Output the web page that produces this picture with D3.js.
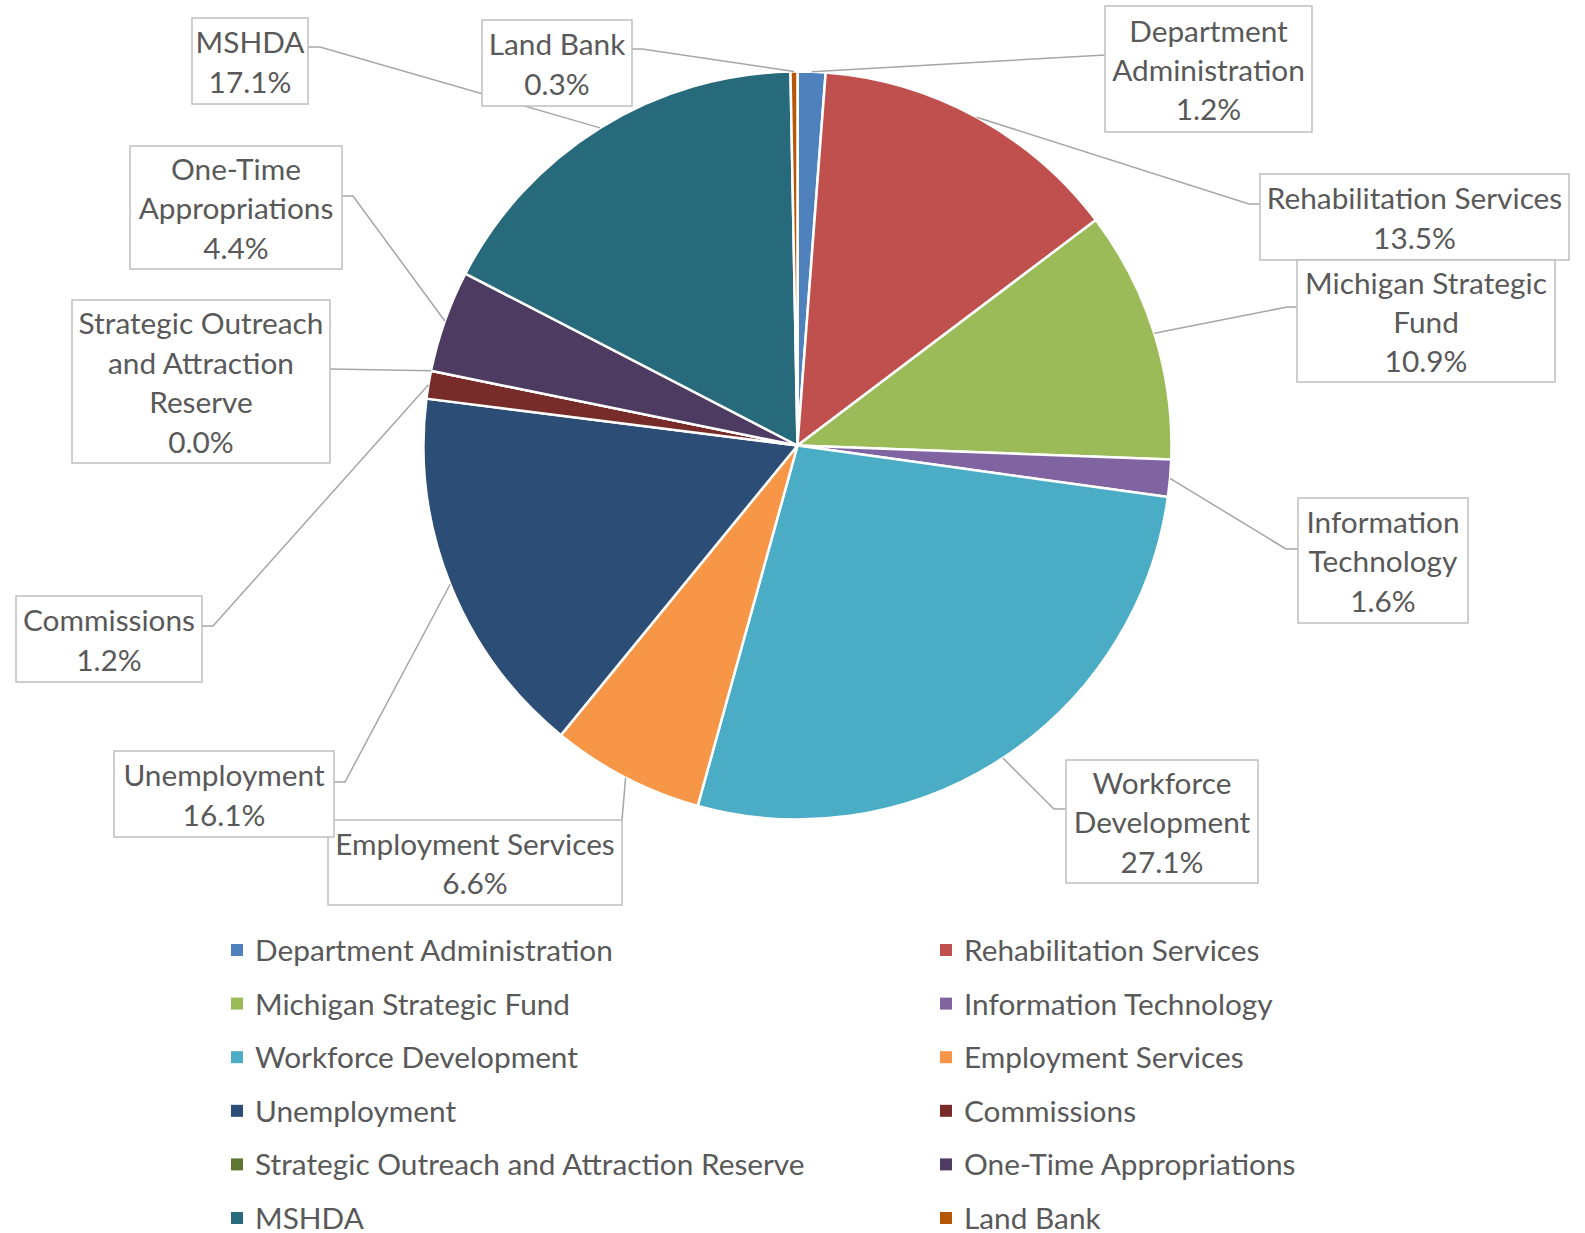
<!DOCTYPE html>
<html>
<head>
<meta charset="utf-8">
<script src="https://cdn.jsdelivr.net/npm/d3@7"></script>
<style>
    body { margin: 0; background: #fff; }
    svg text { font-family: Lato, "Noto Sans", sans-serif; fill: #595959; }
</style>
</head>
<body>
<div id="chart"></div>
<script>
// budget share by program, percent of total
var categories = [
    "Department Administration", "Rehabilitation Services", "Michigan Strategic Fund",
    "Information Technology", "Workforce Development", "Employment Services",
    "Unemployment", "Commissions", "Strategic Outreach and Attraction Reserve",
    "One-Time Appropriations", "MSHDA", "Land Bank"
];
var shares = [1.2, 13.5, 10.9, 1.6, 27.1, 6.6, 16.1, 1.2, 0.0, 4.4, 17.1, 0.3];
var colors = [
    "#4F81BD", "#C0504D", "#9BBB59", "#8064A2", "#4BACC6", "#F79646",
    "#2C4D75", "#772C2A", "#5F7530", "#4D3B62", "#276A7C", "#B65708"
];
// how each data label wraps
var labelLines = [
    ["Department", "Administration"], ["Rehabilitation Services"], ["Michigan Strategic", "Fund"],
    ["Information", "Technology"], ["Workforce", "Development"], ["Employment Services"],
    ["Unemployment"], ["Commissions"], ["Strategic Outreach", "and Attraction", "Reserve"],
    ["One-Time", "Appropriations"], ["MSHDA"], ["Land Bank"]
];

// label box placement (layout only)
var labelBoxes = [
    {x: 1105, y: 6,   w: 207, h: 126, side: "L", ay: 55,  elbow: 0},
    {x: 1260, y: 174, w: 309, h: 86,  side: "L", ay: 204, elbow: 11},
    {x: 1297, y: 260, w: 258, h: 122, side: "L", ay: 307, elbow: 10},
    {x: 1298, y: 498, w: 170, h: 125, side: "L", ay: 549, elbow: 12},
    {x: 1066, y: 760, w: 192, h: 123, side: "L", ay: 809, elbow: 12},
    {x: 328,  y: 820, w: 294, h: 85,  side: "C", ay: 820, elbow: 0},
    {x: 114,  y: 751, w: 220, h: 86,  side: "R", ay: 782, elbow: 11},
    {x: 16,   y: 596, w: 186, h: 86,  side: "R", ay: 626, elbow: 11},
    {x: 72,   y: 300, w: 258, h: 163, side: "R", ay: 369, elbow: 0},
    {x: 130,  y: 146, w: 212, h: 123, side: "R", ay: 196, elbow: 11},
    {x: 192,  y: 18,  w: 116, h: 86,  side: "R", ay: 47,  elbow: 12},
    {x: 482,  y: 20,  w: 150, h: 86,  side: "R", ay: 49,  elbow: 10}
];

var width = 1585, height = 1233;
var cx = 797.5, cy = 445.5, radius = 374;
var fontSize = 29.8, lineH = 39.4;
var fmt = d3.format(".1%");

var data = categories.map(function (c, i) {
    return {name: c, value: shares[i], color: colors[i], lines: labelLines[i], box: labelBoxes[i]};
});

var svg = d3.select("#chart").append("svg")
    .attr("width", width)
    .attr("height", height);

var pie = d3.pie().sort(null).value(function (d) { return d.value; });
var arc = d3.arc().innerRadius(0).outerRadius(radius);
var arcs = pie(data);

var g = svg.append("g").attr("transform", "translate(" + cx + "," + cy + ")");

g.selectAll("path.slice")
    .data(arcs)
    .enter().append("path")
    .attr("class", "slice")
    .attr("d", arc)
    .attr("fill", function (d) { return d.data.color; })
    .attr("stroke", "#fff")
    .attr("stroke-width", 2.5)
    .attr("stroke-linejoin", "round");

// leader lines
svg.selectAll("path.leader")
    .data(arcs)
    .enter().append("path")
    .attr("class", "leader")
    .attr("fill", "none")
    .attr("stroke", "#A6A6A6")
    .attr("stroke-width", 1.5)
    .attr("d", function (d) {
        var a = (d.startAngle + d.endAngle) / 2;
        var px = cx + radius * Math.sin(a), py = cy - radius * Math.cos(a);
        var b = d.data.box, ax, ex;
        if (b.side === "L") { ax = b.x; ex = ax - b.elbow; }
        else if (b.side === "R") { ax = b.x + b.w; ex = ax + b.elbow; }
        else { ax = b.x + b.w; ex = ax; }
        return "M" + px + "," + py + "L" + ex + "," + b.ay + "L" + ax + "," + b.ay;
    });

// data label boxes
var labels = svg.selectAll("g.label")
    .data(data)
    .enter().append("g")
    .attr("class", "label");

labels.append("rect")
    .attr("x", function (d) { return d.box.x; })
    .attr("y", function (d) { return d.box.y; })
    .attr("width", function (d) { return d.box.w; })
    .attr("height", function (d) { return d.box.h; })
    .attr("fill", "#fff")
    .attr("stroke", "#BFBFBF")
    .attr("stroke-width", 1.5);

labels.each(function (d) {
    var rows = d.lines.concat([fmt(d.value / 100)]);
    var top = d.box.y + d.box.h / 2 - (rows.length - 1) * lineH / 2;
    d3.select(this).selectAll("text")
        .data(rows)
        .enter().append("text")
        .attr("x", d.box.x + d.box.w / 2)
        .attr("y", function (r, i) { return top + i * lineH; })
        .attr("dy", "0.4em")
        .attr("text-anchor", "middle")
        .style("font-size", fontSize + "px")
        .text(function (r) { return r; });
});

// legend, two columns
var legendCols = [231, 940], legendTop = 950, legendStep = 53.6;
var legend = svg.selectAll("g.legend")
    .data(data)
    .enter().append("g")
    .attr("class", "legend")
    .attr("transform", function (d, i) {
        return "translate(" + legendCols[i % 2] + "," + (legendTop + Math.floor(i / 2) * legendStep) + ")";
    });

legend.append("rect")
    .attr("x", 0)
    .attr("y", -6)
    .attr("width", 12)
    .attr("height", 12)
    .attr("fill", function (d) { return d.color; });

legend.append("text")
    .attr("x", 24)
    .attr("y", 0)
    .attr("dy", "0.37em")
    .style("font-size", fontSize + "px")
    .text(function (d) { return d.name; });
</script>
</body>
</html>
